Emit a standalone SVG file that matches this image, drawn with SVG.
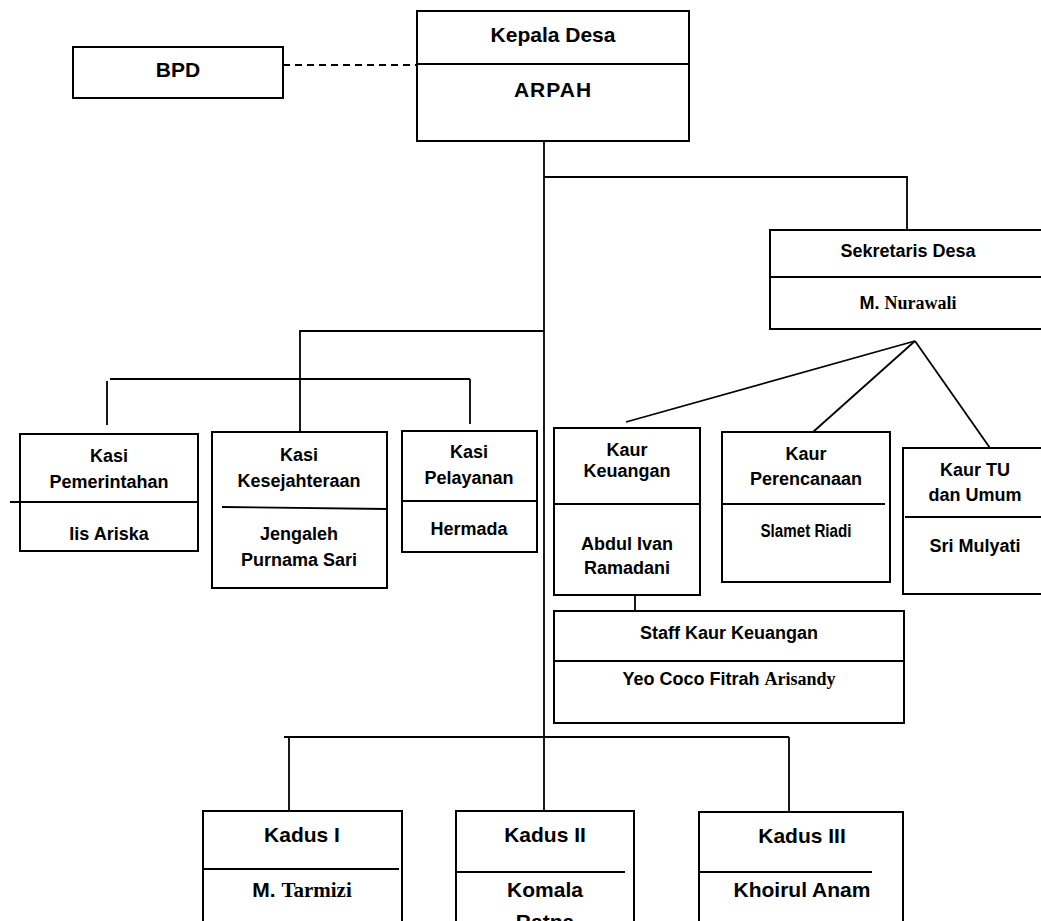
<svg xmlns="http://www.w3.org/2000/svg" width="1041" height="921" viewBox="0 0 1041 921">
<style>
.box{fill:#fff;stroke:#000;stroke-width:2}
.ln{stroke:#000;stroke-width:1.8;fill:none}
.dash{stroke:#000;stroke-width:1.8;stroke-dasharray:7,5;fill:none}
text{font-family:"Liberation Sans",Arial,sans-serif;font-weight:bold;text-anchor:middle;fill:#000}
.t21{font-size:21px}
.t18{font-size:18px}
.serif{font-family:"Liberation Serif","Times New Roman",serif}
</style>
<rect width="1041" height="921" fill="#fff"/>
<g id="connectors">
<line class="dash" x1="283" y1="65" x2="417" y2="65"/>
<line class="ln" x1="544" y1="133" x2="544" y2="812"/>
<polyline class="ln" points="544,177 907,177 907,230"/>
<polyline class="ln" points="544,331 300,331 300,432"/>
<line class="ln" x1="110" y1="379" x2="470" y2="379"/>
<line class="ln" x1="107" y1="381" x2="107" y2="425"/>
<line class="ln" x1="470" y1="379" x2="470" y2="424"/>
<line class="ln" x1="915" y1="341" x2="626" y2="422"/>
<line class="ln" x1="915" y1="341" x2="813" y2="432"/>
<line class="ln" x1="915" y1="341" x2="990" y2="448"/>
<line class="ln" x1="635" y1="595" x2="635" y2="611"/>
<line class="ln" x1="284" y1="737" x2="789" y2="737"/>
<line class="ln" x1="289" y1="737" x2="289" y2="811"/>
<line class="ln" x1="789" y1="737" x2="789" y2="812"/>
</g>
<g id="bpd">
<rect class="box" x="73" y="47" width="210" height="51"/>
<text class="t21" x="178" y="77">BPD</text>
</g>
<g id="kepala-desa">
<rect class="box" x="417" y="11" width="272" height="130"/>
<line class="ln" x1="417" y1="64" x2="689" y2="64"/>
<text class="t21" x="553" y="42">Kepala Desa</text>
<text class="t21" x="553" y="97" letter-spacing="1">ARPAH</text>
</g>
<g id="sekretaris-desa">
<rect class="box" x="770" y="230" width="280" height="99"/>
<line class="ln" x1="770" y1="277" x2="1050" y2="277"/>
<text class="t18" x="908" y="257">Sekretaris Desa</text>
<text class="t18" x="908" y="309">M. <tspan class="serif">Nurawali</tspan></text>
</g>
<g id="kasi-pemerintahan">
<rect class="box" x="20" y="434" width="178" height="117"/>
<line class="ln" x1="10" y1="502" x2="198" y2="502"/>
<text class="t18" x="109" y="462">Kasi</text>
<text class="t18" x="109" y="488">Pemerintahan</text>
<text class="t18" x="109" y="540">Iis Ariska</text>
</g>
<g id="kasi-kesejahteraan">
<rect class="box" x="212" y="432" width="175" height="156"/>
<line class="ln" x1="222" y1="507" x2="387" y2="509"/>
<text class="t18" x="299" y="461">Kasi</text>
<text class="t18" x="299" y="487">Kesejahteraan</text>
<text class="t18" x="299" y="540">Jengaleh</text>
<text class="t18" x="299" y="566">Purnama Sari</text>
</g>
<g id="kasi-pelayanan">
<rect class="box" x="402" y="431" width="135" height="121"/>
<line class="ln" x1="402" y1="501" x2="537" y2="501"/>
<text class="t18" x="469" y="458">Kasi</text>
<text class="t18" x="469" y="484">Pelayanan</text>
<text class="t18" x="469" y="535">Hermada</text>
</g>
<g id="kaur-keuangan">
<rect class="box" x="554" y="428" width="146" height="167"/>
<line class="ln" x1="554" y1="504" x2="700" y2="504"/>
<text class="t18" x="627" y="456">Kaur</text>
<text class="t18" x="627" y="477">Keuangan</text>
<text class="t18" x="627" y="550">Abdul Ivan</text>
<text class="t18" x="627" y="574">Ramadani</text>
</g>
<g id="kaur-perencanaan">
<rect class="box" x="722" y="432" width="168" height="150"/>
<line class="ln" x1="722" y1="504" x2="885" y2="504"/>
<text class="t18" x="806" y="460">Kaur</text>
<text class="t18" x="806" y="485">Perencanaan</text>
<text class="t18" x="806" y="537" textLength="91" lengthAdjust="spacingAndGlyphs">Slamet Riadi</text>
</g>
<g id="kaur-tu">
<rect class="box" x="903" y="448" width="147" height="146"/>
<line class="ln" x1="905" y1="517" x2="1050" y2="517"/>
<text class="t18" x="975" y="476">Kaur TU</text>
<text class="t18" x="975" y="501">dan Umum</text>
<text class="t18" x="975" y="552">Sri Mulyati</text>
</g>
<g id="staff-kaur-keuangan">
<rect class="box" x="554" y="611" width="350" height="112"/>
<line class="ln" x1="554" y1="661" x2="904" y2="661"/>
<text class="t18" x="729" y="639">Staff Kaur Keuangan</text>
<text class="t18" x="729" y="685">Yeo Coco Fitrah <tspan class="serif">Arisandy</tspan></text>
</g>
<g id="kadus-1">
<rect class="box" x="203" y="811" width="199" height="130"/>
<line class="ln" x1="202" y1="869" x2="399" y2="869"/>
<text class="t21" x="302" y="842">Kadus I</text>
<text class="t21" x="302" y="897">M. <tspan class="serif">Tarmizi</tspan></text>
</g>
<g id="kadus-2">
<rect class="box" x="456" y="811" width="178" height="130"/>
<line class="ln" x1="456" y1="872" x2="625" y2="872"/>
<text class="t21" x="545" y="842">Kadus II</text>
<text class="t21" x="545" y="897">Komala</text>
<text class="t21" x="545" y="929">Ratna</text>
</g>
<g id="kadus-3">
<rect class="box" x="699" y="812" width="204" height="130"/>
<line class="ln" x1="699" y1="872" x2="872" y2="872"/>
<text class="t21" x="802" y="843">Kadus III</text>
<text class="t21" x="802" y="897">Khoirul Anam</text>
</g>
</svg>
